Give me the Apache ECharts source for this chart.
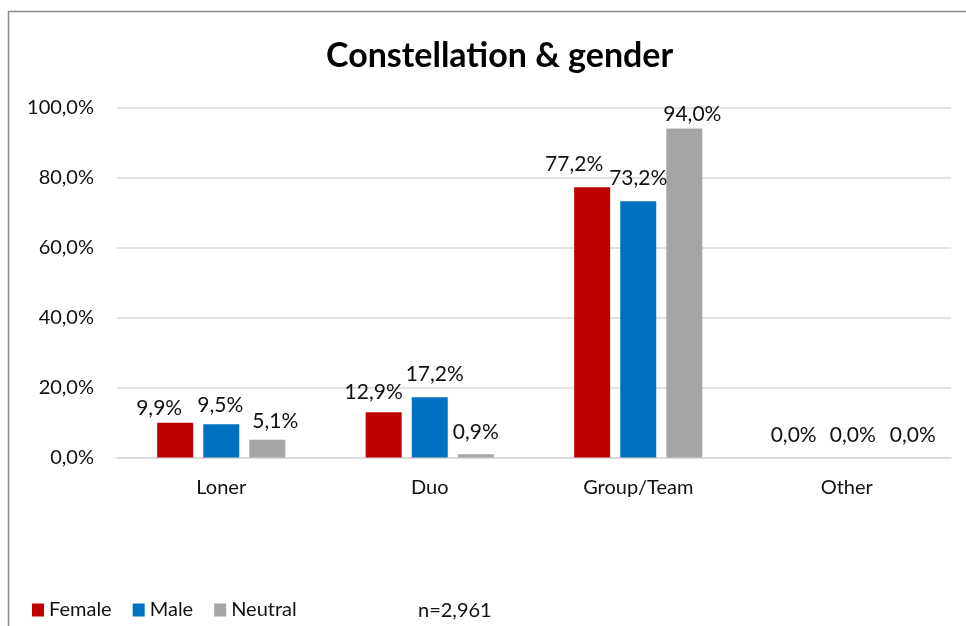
<!DOCTYPE html>
<html>
<head>
<meta charset="utf-8">
<script src="https://cdn.jsdelivr.net/npm/echarts@6/dist/echarts.min.js"></script>
<style>
html, body { margin: 0; padding: 0; background: #fff; }
#chart { width: 966px; height: 626px; }
</style>
</head>
<body>
<div id="chart"></div>
<script>
const categories = ['Loner', 'Duo', 'Group/Team', 'Other']
const female = [9.9, 12.9, 77.2, 0.0]
const male = [9.5, 17.2, 73.2, 0.0]
const neutral = [5.1, 0.9, 94.0, 0.0]
const yTicks = [0, 20, 40, 60, 80, 100]
const sampleNote = 'n=2,961'

// label nudges so the texts sit like in the original (dx, dy)
const femaleShift = [[-16, 0], [-10, -6], [-18, -9], [-7, -8]]
const maleShift = [[-1, -5], [5, -9], [0, -9], [6, -8]]
const neutralShift = [[8, -4], [0, -8], [8, 0], [20, -8]]

const font = 'Lato, "Open Sans", sans-serif'
const pct = v => v.toFixed(1).replace('.', ',') + '%'

function barSeries(name, color, values, shift) {
  return {
    name: name,
    type: 'bar',
    barWidth: 36,
    barGap: '28%',
    itemStyle: { color: color },
    label: {
      show: true,
      position: 'top',
      distance: 4,
      color: '#111',
      fontFamily: font,
      fontSize: 21,
      formatter: p => pct(p.value)
    },
    data: values.map((v, i) => ({
      value: v,
      label: { offset: shift[i] }
    }))
  }
}

const chart = echarts.init(document.getElementById('chart'))
chart.setOption({
  animation: false,
  title: {
    text: 'Constellation & gender',
    left: 321,
    top: 34,
    textStyle: { fontFamily: font, fontSize: 34, fontWeight: 'bold', color: '#000' }
  },
  legend: {
    left: 27,
    top: 595,
    itemWidth: 12,
    itemHeight: 13,
    itemGap: 21,
    icon: 'rect',
    textStyle: { fontFamily: font, fontSize: 20, color: '#111' },
    data: ['Female', 'Male', 'Neutral']
  },
  grid: { left: 117, right: 15, top: 107.5, bottom: 168.5 },
  xAxis: {
    type: 'category',
    data: categories,
    axisTick: { show: false },
    axisLine: { lineStyle: { color: '#d9d9d9', width: 1.5 } },
    axisLabel: { margin: 20, fontFamily: font, fontSize: 20, color: '#111' }
  },
  yAxis: {
    type: 'value',
    min: yTicks[0],
    max: yTicks[yTicks.length - 1],
    interval: yTicks[1] - yTicks[0],
    axisLine: { show: false },
    axisTick: { show: false },
    axisLabel: { margin: 23, fontFamily: font, fontSize: 20, color: '#111', formatter: v => pct(v) },
    splitLine: { lineStyle: { color: '#d9d9d9', width: 1.5 } }
  },
  graphic: [
    {
      type: 'rect',
      shape: { x: 8.5, y: 11.5, width: 1000, height: 1000 },
      style: { fill: 'none', stroke: '#8a8a8a', lineWidth: 1.5 },
      silent: true
    },
    {
      type: 'text',
      left: 418,
      top: 601,
      style: { text: sampleNote, font: '20px ' + font, fill: '#111' }
    }
  ],
  series: [
    barSeries('Female', '#c00000', female, femaleShift),
    barSeries('Male', '#0070c0', male, maleShift),
    barSeries('Neutral', '#a5a5a5', neutral, neutralShift)
  ]
})
</script>
</body>
</html>
